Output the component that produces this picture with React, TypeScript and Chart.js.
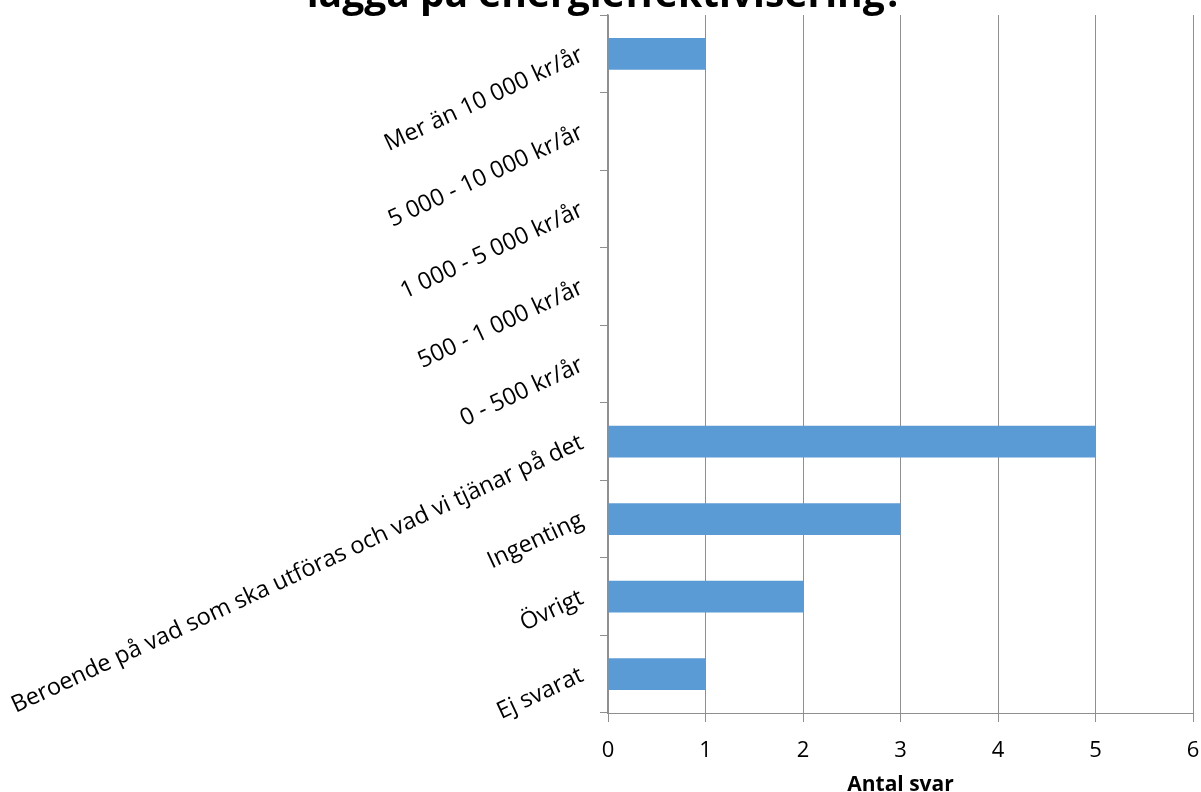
import React, { useEffect, useRef } from "react";
import { Chart, registerables } from "chart.js";

Chart.register(...registerables);

const categories = [
  "Mer än 10 000 kr/år",
  "5 000 - 10 000 kr/år",
  "1 000 - 5 000 kr/år",
  "500 - 1 000 kr/år",
  "0 - 500 kr/år",
  "Beroende på vad som ska utföras och vad vi tjänar på det",
  "Ingenting",
  "Övrigt",
  "Ej svarat",
];
const values = [1, 0, 0, 0, 0, 5, 3, 2, 1];
const xMin = 0;
const xMax = 6;
const xStep = 1;
const titleText = "lägga på energieffektivisering?";
const xAxisTitle = "Antal svar";

const FONT = '"Open Sans", "Noto Sans", sans-serif';
const GRID = "#8f8f8f";

const clippedTitle = {
  id: "clippedTitle",
  afterDraw(chart: any) {
    const ctx = chart.ctx as CanvasRenderingContext2D;
    ctx.save();
    ctx.font = `bold 39px ${FONT}`;
    ctx.fillStyle = "#000";
    ctx.textAlign = "center";
    ctx.textBaseline = "alphabetic";
    ctx.fillText(titleText, 605, 7);
    ctx.restore();
  },
};

export default function App() {
  const ref = useRef<HTMLCanvasElement | null>(null);

  useEffect(() => {
    document.body.style.margin = "0";
    const canvas = ref.current;
    if (!canvas) return;
    const chart = new Chart(canvas, {
      type: "bar",
      data: {
        labels: categories,
        datasets: [
          {
            data: values,
            backgroundColor: "#5B9BD5",
            borderWidth: 0,
            barPercentage: 0.41,
            categoryPercentage: 1,
          },
        ],
      },
      options: {
        indexAxis: "y",
        responsive: false,
        animation: false,
        layout: { padding: { top: 15, right: 8, left: 0, bottom: 0 } },
        plugins: {
          legend: { display: false },
          tooltip: { enabled: false },
          title: { display: false },
        },
        scales: {
          x: {
            type: "linear",
            position: "bottom",
            min: xMin,
            max: xMax,
            ticks: {
              stepSize: xStep,
              color: "#000",
              font: { family: FONT, size: 22, lineHeight: 2.6 },
              padding: 0,
            },
            grid: {
              color: GRID,
              lineWidth: 1,
              drawTicks: true,
              tickLength: 9,
            },
            border: { display: true, color: GRID, width: 1 },
            title: {
              display: true,
              text: xAxisTitle,
              color: "#000",
              font: { family: FONT, size: 21, weight: "bold" },
              padding: { top: 0, bottom: -6 },
            },
            afterFit(scale: any) {
              scale.height = 79;
              scale.paddingLeft = 0;
              scale.paddingRight = 0;
            },
          },
          y: {
            type: "category",
            position: "left",
            offset: true,
            ticks: {
              autoSkip: false,
              minRotation: 25,
              maxRotation: 25,
              padding: 18,
              color: "#000",
              font: { family: FONT, size: 23.5 },
            },
            grid: {
              offset: true,
              drawOnChartArea: false,
              drawTicks: true,
              tickLength: 8,
              color: GRID,
            },
            border: { display: true, color: GRID, width: 1.5 },
            afterFit(scale: any) {
              scale.width = 608;
              scale.paddingTop = 0;
              scale.paddingBottom = 0;
            },
          },
        },
      },
      plugins: [clippedTitle],
    } as any);
    return () => chart.destroy();
  }, []);

  return (
    <div style={{ width: 1201, height: 792, overflow: "hidden" }}>
      <canvas ref={ref} width={1201} height={792} style={{ display: "block" }} />
    </div>
  );
}
